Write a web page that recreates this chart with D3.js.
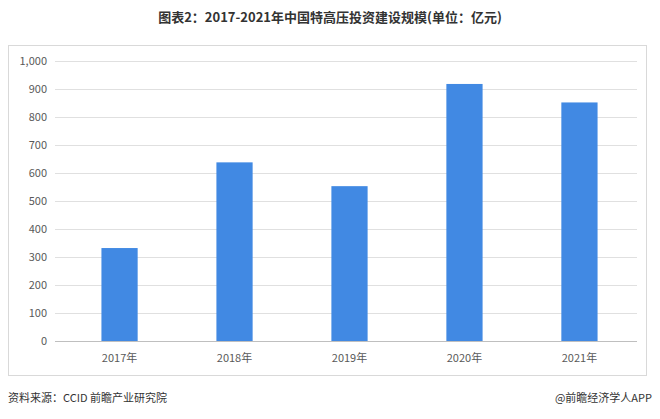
<!DOCTYPE html>
<html><head><meta charset="utf-8">
<script src="https://cdn.jsdelivr.net/npm/d3@7"></script>
<style>body{margin:0;background:#fff;font-family:"Noto Sans CJK SC","Noto Sans",sans-serif}</style>
</head><body><svg id="c" width="660" height="419"></svg>
<script>
const categories=["2017年","2018年","2019年","2020年","2021年"];
const values=[332,638,553,918,852];
const yTicks=[0,100,200,300,400,500,600,700,800,900,1000];
const title="图表2：2017-2021年中国特高压投资建设规模(单位：亿元)";
const source="资料来源：CCID 前瞻产业研究院";
const brand="@前瞻经济学人APP";
const svg=d3.select("#c");
svg.append("text").attr("x",330).attr("y",22).attr("text-anchor","middle").attr("font-size",13).attr("font-weight","bold").attr("fill","#333").text(title);
svg.append("rect").attr("x",8.5).attr("y",45.5).attr("width",638).attr("height",330).attr("fill","none").attr("stroke","#d9d9d9");
const x=d3.scaleBand().domain(categories).range([62,637]).paddingInner(0.685).paddingOuter(0.343);
const y=d3.scaleLinear().domain([0,1000]).range([341,61]);
const g=svg.append("g");
g.selectAll("line.g").data(yTicks).join("line").attr("x1",55).attr("x2",637).attr("y1",d=>y(d)+0.5).attr("y2",d=>y(d)+0.5).attr("stroke",d=>d===0?"#bfbfbf":"#e0e0e0");
g.selectAll("text.y").data(yTicks).join("text").attr("x",47).attr("y",d=>y(d)+4).attr("text-anchor","end").attr("font-size",11).attr("fill","#595959").text(d3.format(","));
g.selectAll("rect.b").data(values).join("rect").attr("x",(d,i)=>x(categories[i])).attr("width",x.bandwidth()).attr("y",d=>y(d)).attr("height",d=>y(0)-y(d)).attr("fill","#4189e3");
g.selectAll("text.x").data(categories).join("text").attr("x",d=>x(d)+x.bandwidth()/2).attr("y",362).attr("text-anchor","middle").attr("font-size",11).attr("fill","#595959").text(d=>d);
svg.append("text").attr("x",8).attr("y",402).attr("font-size",11).attr("fill","#333").text(source);
svg.append("text").attr("x",652).attr("y",402).attr("text-anchor","end").attr("font-size",11).attr("fill","#333").text(brand);
</script></body></html>
